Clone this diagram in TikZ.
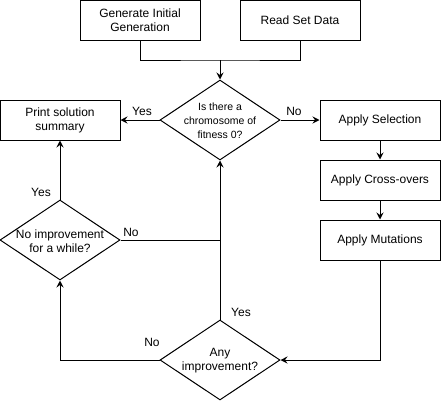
\documentclass[tikz,border=0pt]{standalone}
\usepackage{fontspec}
\setmainfont{Liberation Sans}
\usetikzlibrary{shapes.geometric,arrows.meta}
\begin{document}
\begin{tikzpicture}[x=1pt,y=-1pt,
  box/.style={draw,line width=1pt,minimum width=120pt,minimum height=40pt,inner sep=0pt,align=center,font=\fontsize{12}{14}\selectfont},
  dia/.style={draw,line width=1pt,diamond,minimum width=120pt,minimum height=80pt,inner sep=0pt,align=center,aspect=1.5},
  line/.style={line width=1pt},
  arr/.style={line width=1pt,-{Stealth[length=7pt,width=7pt,inset=2.5pt]}},
  lbl/.style={font=\fontsize{12}{14}\selectfont,inner sep=0pt}]
\useasboundingbox (0,0) rectangle (441,402);
\node[box] (gen) at (140,20) {Generate Initial\\Generation};
\node[box] (read) at (300,20) {Read Set Data};
\node[dia,font=\fontsize{10.5}{14}\selectfont] (fit) at (220,120) {};
\node[align=center,font=\fontsize{10.5}{14}\selectfont,inner sep=0pt] at (220,121) {Is there a\\chromosome of\\fitness 0?};
\node[box] (print) at (60,120) {Print solution\\summary};
\node[box] (sel) at (380,120) {Apply Selection};
\node[box] (cross) at (380,180) {Apply Cross-overs};
\node[box] (mut) at (380,240) {Apply Mutations};
\node[dia] (noimp) at (60,240) {};
\node[align=center,font=\fontsize{12}{14}\selectfont,inner sep=0pt] at (60,241) {No improvement\\for a while?};
\node[dia] (any) at (220,360) {};
\node[align=center,font=\fontsize{12}{14}\selectfont,inner sep=0pt] at (220,361) {Any\\improvement?};
\coordinate (join) at (220,60);
\coordinate (mid) at (220,240);
\draw[line] (gen.south) |- (join) -| (read.south);
\draw[arr] (join) -- (fit.north);
\draw[arr] (fit.west) -- (print.east);
\draw[arr] (fit.east) -- (sel.west);
\draw[arr] (sel.south) -- (cross.north);
\draw[arr] (cross.south) -- (mut.north);
\draw[arr] (mut.south) |- (any.east);
\draw[arr] (any.north) -- (fit.south);
\draw[line] (noimp.east) -- (mid);
\draw[arr] (any.west) -| (noimp.south);
\draw[arr] (noimp.north) -- (print.south);
\node[lbl] at (142,111) {Yes};
\node[lbl] at (294,111) {No};
\node[lbl] at (41,192) {Yes};
\node[lbl] at (131,232) {No};
\node[lbl] at (241,312) {Yes};
\node[lbl] at (152,342) {No};
\end{tikzpicture}
\end{document}
